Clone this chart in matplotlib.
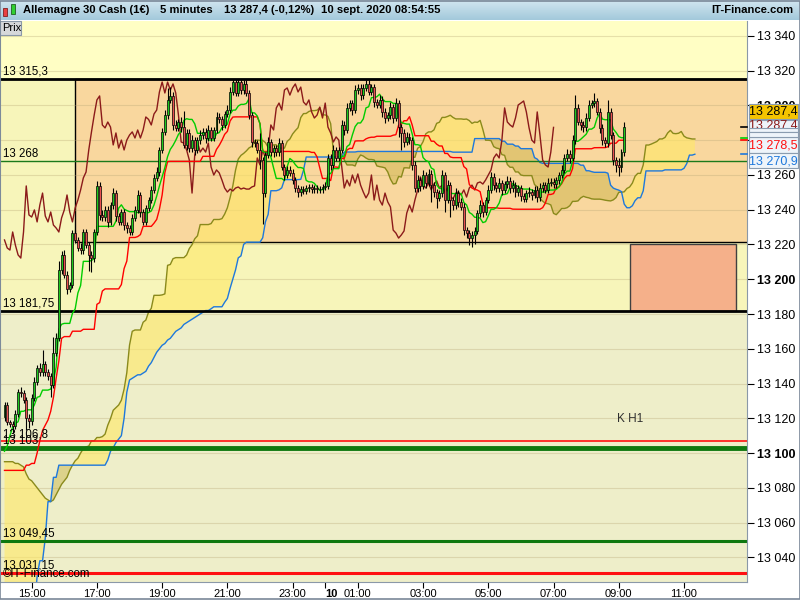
import numpy as np
import pandas as pd
import matplotlib
matplotlib.use("Agg")
import matplotlib.pyplot as plt
from matplotlib.patches import Rectangle
from matplotlib.transforms import blended_transform_factory

plt.rcParams['font.family'] = ['Liberation Sans', 'DejaVu Sans']

# ---- data (5 minute bars, DAX cash) ----
first_open = 13120.7
closes = [
    13127.6, 13117.9, 13116.7, 13115.6, 13122.5, 13135.1, 13134.5, 13130.5, 13120.2, 13118.4,
    13131.7, 13140.9, 13148.9, 13146.6, 13151.2, 13146.6, 13144.3, 13139.2, 13157.6, 13166.2,
    13205.3, 13214.0, 13202.5, 13194.4, 13196.7, 13226.6, 13222.6, 13218.0, 13216.8, 13227.2,
    13219.7, 13214.0, 13212.2, 13227.2, 13253.7, 13237.0, 13235.8, 13239.9, 13233.0, 13242.7,
    13249.6, 13236.4, 13233.0, 13238.7, 13231.2, 13229.5, 13227.2, 13235.3, 13239.9, 13248.5,
    13238.7, 13233.0, 13241.0, 13245.6, 13251.4, 13258.3, 13261.7, 13274.4, 13284.8, 13294.5,
    13303.2, 13305.5, 13288.8, 13287.1, 13290.5, 13287.6, 13277.3, 13284.2, 13275.5, 13280.1,
    13274.4, 13280.1, 13283.0, 13284.8, 13281.3, 13285.9, 13281.3, 13285.9, 13293.4, 13292.0,
    13288.8, 13295.1, 13297.4, 13307.8, 13313.5, 13307.2, 13313.5, 13308.9, 13312.4, 13307.2,
    13294.5, 13279.0, 13278.4, 13274.4, 13268.6, 13249.6, 13271.5, 13279.0, 13273.2, 13275.5,
    13273.2, 13278.4, 13264.6, 13260.0, 13262.9, 13261.2, 13257.1, 13252.5, 13250.2, 13251.9,
    13250.8, 13252.5, 13253.1, 13251.9, 13252.5, 13251.9, 13251.9, 13253.1, 13253.7, 13269.8,
    13265.8, 13274.4, 13269.8, 13274.4, 13288.8, 13285.9, 13298.6, 13301.4, 13297.4, 13308.9,
    13310.1, 13306.0, 13310.1, 13312.4, 13307.8, 13310.6, 13302.0, 13300.3, 13303.2, 13296.3,
    13292.8, 13294.5, 13299.1, 13292.8, 13301.4, 13287.6, 13284.2, 13279.0, 13281.9, 13280.1,
    13265.8, 13252.5, 13257.1, 13253.7, 13260.0, 13255.4, 13260.6, 13254.2, 13250.2, 13246.8,
    13249.6, 13260.0, 13245.6, 13254.2, 13245.6, 13242.7, 13249.6, 13244.5, 13241.6, 13228.3,
    13226.6, 13223.7, 13225.5, 13227.8, 13238.1, 13242.7, 13238.7, 13245.6, 13251.4, 13258.9,
    13254.2, 13252.5, 13255.4, 13251.4, 13254.8, 13256.6, 13252.5, 13254.2, 13250.2, 13252.5,
    13247.9, 13246.2, 13249.6, 13250.2, 13248.5, 13251.4, 13247.3, 13252.5, 13254.2, 13251.4,
    13255.4, 13256.0, 13254.8, 13257.1, 13260.0, 13262.9, 13269.8, 13272.1, 13269.8, 13280.1,
    13298.6, 13290.5, 13288.8, 13287.6, 13292.8, 13300.3, 13301.4, 13302.6, 13296.3, 13287.1,
    13280.1, 13278.4, 13296.3, 13283.0, 13268.6, 13265.8, 13264.6, 13273.2, 13287.4,
]
# wick sizes above / below the body, in points
wick_up = [
    2, 2, 1, 2, 2, 2, 3, 2, 2, 2,
    2, 3, 2, 3, 8, 2, 2, 2, 9, 3,
    5, 2, 3, 2, 2, 2, 2, 2, 3, 2,
    2, 2, 2, 2, 3, 2, 3, 2, 2, 2,
    3, 2, 2, 2, 2, 2, 2, 2, 2, 3,
    2, 2, 2, 2, 2, 2, 3, 2, 2, 3,
    7, 5, 2, 3, 2, 3, 9, 2, 2, 3,
    2, 2, 3, 2, 2, 3, 2, 2, 3, 2,
    2, 2, 3, 3, 1.8, 2, 1.5, 2, 2, 2,
    2, 2, 2, 2, 10, 2, 2, 3, 2, 2,
    2, 3, 2, 2, 2, 2, 2, 2, 2, 2,
    2, 2, 2, 2, 2, 2, 2, 2, 2, 2,
    2, 3, 2, 2, 3, 2, 3, 2, 2, 3,
    2, 2, 2, 2, 2.3, 2, 2, 2, 3, 2,
    2, 2, 3, 2, 3, 2, 2, 2, 3, 2,
    2, 2, 3, 2, 3, 2, 3, 2, 2, 2,
    2, 3, 2, 3, 2, 2, 3, 2, 2, 2,
    2, 2, 2, 2, 2, 3, 2, 2, 3, 3,
    2, 2, 3, 2, 2, 3, 2, 3, 2, 2,
    2, 2, 2, 3, 2, 2, 2, 3, 2, 2,
    3, 2, 2, 2, 2, 3, 2, 3, 2, 3,
    7.4, 2, 2, 2, 3, 3, 2, 4.6, 2, 2,
    2, 2, 7, 2, 2, 2, 4, 2, 3,
]
wick_lo = [
    2, 2, 2, 4, 2, 2, 2, 2, 7, 4,
    2, 2, 2, 2, 2, 2, 2, 7, 2, 2,
    2, 2, 2, 3, 2, 2, 2, 2, 2, 2,
    2, 9, 8, 2, 2, 3, 2, 2, 3, 2,
    2, 3, 2, 2, 3, 3, 2, 2, 2, 2,
    3, 2, 2, 2, 2, 2, 2, 2, 2, 2,
    2, 2, 3, 2, 2, 3, 2, 3, 2, 2,
    3, 2, 2, 2, 3, 2, 2, 2, 2, 2,
    3, 2, 2, 2, 2, 2, 2, 2, 2, 2,
    2, 3, 2, 2, 5, 18, 2, 2, 2, 3,
    2, 2, 2, 3, 2, 2, 2, 2, 3, 2,
    2, 2, 2, 2, 2, 2, 2, 2, 2, 2,
    3, 2, 2, 2, 2, 3, 2, 2, 3, 2,
    2, 3, 2, 2, 2, 2, 3, 2, 2, 3,
    3, 2, 2, 3, 2, 6, 10, 3, 2, 2,
    3, 2, 2, 3, 2, 3, 2, 10, 3, 6,
    2, 2, 7, 2, 10, 3, 2, 3, 2, 3,
    3, 4, 5, 5, 2, 2, 3, 2, 2, 2,
    3, 2, 2, 3, 2, 2, 3, 2, 3, 2,
    3, 2, 2, 2, 3, 2, 3, 2, 2, 2,
    2, 2, 2, 2, 2, 2, 2, 2, 3, 2,
    2, 2, 3, 3, 2, 2, 2, 2, 2, 3,
    3, 2, 2, 2, 3, 4, 5, 3, 2,
]

# ichimoku values at the left edge (their history is before the first bar)
tenkan_lead = [13101, 13104, 13110, 13115, 13117, 13118, 13124, 13124]
kijun_lead = [13090, 13090, 13090, 13090, 13090, 13090, 13090, 13090, 13093, 13093,
              13094, 13094, 13100, 13107, 13113, 13116, 13119, 13124, 13132, 13143,
              13153, 13166, 13167, 13167, 13167]
span_a_lead = [13095, 13095, 13095, 13095, 13094, 13094, 13093, 13092, 13088, 13085,
               13084, 13082, 13080, 13078, 13076, 13074, 13073, 13072, 13073, 13076,
               13079, 13082, 13084, 13086, 13090, 13093]
span_b_lead = ([13010] * 12
               + [13029, 13038, 13038, 13051, 13072, 13072, 13086, 13086]
               + [13093] * 18
               + [13096, 13101, 13103, 13106, 13108, 13110, 13120, 13135, 13142, 13143,
                  13144, 13145, 13145, 13146, 13147, 13150, 13152, 13155, 13158, 13160,
                  13162, 13163, 13165, 13166, 13168, 13170, 13171, 13172, 13174, 13175,
                  13176, 13177, 13178, 13179, 13180, 13181, 13182, 13182, 13183])

# horizontal levels drawn on the chart
levels = [13315.3, 13268, 13181.75, 13106.8, 13103, 13049.45, 13031.15]
level_labels = ["13 315,3", "13 268", "13 181,75", "13 106,8", "13 103", "13 049,45", "13 031,15"]
level_colors = ["black", "#1b7a1b", "black", "#ff1010", "#0e780e", "#0e780e", "#ff1010"]
level_widths = [2.0, 1.0, 2.0, 1.2, 3.5, 2.2, 2.2]

zone_top, zone_bottom, zone_start = 13315.3, 13221.5, 25.9
box_top, box_bottom, box_left, box_right = 13220.0, 13181.75, 230.1, 269.1

price_ticks = list(range(13040, 13341, 20))
hidden_ticks = [13280]   # covered by the price boxes on the scale
time_ticks = [10, 34, 58, 82, 106, 118, 130, 154, 178, 202, 226, 250]
time_labels = ["15:00", "17:00", "19:00", "21:00", "23:00", "10", "01:00",
               "03:00", "05:00", "07:00", "09:00", "11:00"]

box_values = [13287.4, 13287.4, 13278.5, 13270.9]

title_parts = ["Allemagne 30 Cash (1€)", "5 minutes", "13 287,4 (-0,12%)", "10 sept. 2020 08:54:55"]


def fr(v):
    s = f"{v:,.2f}".rstrip("0").rstrip(".")
    return s.replace(",", " ").replace(".", ",")


# ---- ichimoku from the candles ----
c = np.array(closes)
o = np.concatenate([[first_open], c[:-1]])
h = np.maximum(o, c) + np.array(wick_up)
l = np.minimum(o, c) - np.array(wick_lo)
n = len(c)
x = np.arange(n)
hs, ls = pd.Series(h), pd.Series(l)

tenkan = ((hs.rolling(9, min_periods=1).max() + ls.rolling(9, min_periods=1).min()) / 2).to_numpy()
tenkan[:len(tenkan_lead)] = tenkan_lead
kijun = ((hs.rolling(26, min_periods=1).max() + ls.rolling(26, min_periods=1).min()) / 2).to_numpy()
kijun[:len(kijun_lead)] = kijun_lead
mid52 = ((hs.rolling(52, min_periods=1).max() + ls.rolling(52, min_periods=1).min()) / 2).to_numpy()

span_a = np.concatenate([span_a_lead, (tenkan + kijun) / 2])
span_b = np.concatenate([span_b_lead, mid52[len(span_b_lead) - 26:]])
xc = np.arange(len(span_a))

# ---- figure ----
fig = plt.figure(figsize=(8, 6), dpi=100)
fig.patch.set_facecolor("white")


def fx(px):
    return px / 800


def fy(py):
    return 1 - py / 600


ax = fig.add_axes([0, fy(582), fx(747), (582 - 21) / 600])
ax.set_xlim(-1.656, 273.18)
ax.set_ylim(13025.76, 13348.63)

# background bands
ax.axhspan(13315.3, 13400, color="#fffec4", zorder=0)
ax.axhspan(13181.75, 13315.3, color="#f7f5ba", zorder=0)
ax.axhspan(13000, 13181.75, color="#eeeec9", zorder=0)
ax.add_patch(Rectangle((zone_start, zone_bottom), 400, zone_top - zone_bottom,
                       facecolor="#f9d79e", edgecolor="black", lw=1, zorder=0.5))
for p in price_ticks:
    ax.axhline(p, color="#b8a878", alpha=0.35, lw=0.8, zorder=0.6)

# cloud
ax.fill_between(xc, span_a, span_b, where=span_a >= span_b, interpolate=True,
                color="#ffe866", alpha=0.6, lw=0, zorder=1)
ax.fill_between(xc, span_a, span_b, where=span_a < span_b, interpolate=True,
                color="#c8b040", alpha=0.45, lw=0, zorder=1)
ax.plot(xc, span_a, color="#8a8a1c", lw=1, zorder=2)
ax.plot(xc, span_b, color="#1e78dc", lw=1, zorder=2)

ax.add_patch(Rectangle((box_left, box_bottom), box_right - box_left, box_top - box_bottom,
                       facecolor="#f5b08a", edgecolor="#404040", lw=1, zorder=2))

for lv, col, lw in zip(levels, level_colors, level_widths):
    ax.axhline(lv, color=col, lw=lw, zorder=2.5)

tr_left = blended_transform_factory(ax.transAxes, ax.transData)
for lv, lab in zip(levels, level_labels):
    ax.text(3 / 747, lv + 0.6, lab, transform=tr_left, fontsize=8.3,
            va="bottom", ha="left", zorder=6)

# chikou, kijun, tenkan
ax.plot(x[:n - 26], c[26:], color="#8b1a1a", lw=1, zorder=3)
ax.plot(x, kijun, color="#ff0000", lw=1, zorder=3.2)
ax.plot(x, tenkan, color="#00cc00", lw=1, zorder=3.4)

# candles
up = c >= o
ax.vlines(x, l, h, color="black", lw=0.8, zorder=4)
ax.bar(x, np.maximum(np.abs(c - o), 0.3), bottom=np.minimum(o, c), width=0.72,
       color=np.where(up, "#1ec81e", "#e85050"), edgecolor="black", lw=0.5, zorder=5)

ax.text(225.3, 13119.6, "K H1", fontsize=8.5, color="#303030", va="center", zorder=6)
ax.text(3 / 747, 8 / 561, "©IT-Finance.com", transform=ax.transAxes, fontsize=8.3,
        va="center", ha="left", zorder=6)

# axes
ax.spines["top"].set_visible(False)
for side in ["left", "right", "bottom"]:
    ax.spines[side].set_color("#8a98a8")
ax.yaxis.tick_right()
ax.set_yticks(price_ticks)
ax.set_yticklabels(["" if p in hidden_ticks else fr(p) for p in price_ticks])
for t, p in zip(ax.get_yticklabels(), price_ticks):
    if p % 100 == 0:
        t.set_fontweight("bold")
ax.tick_params(axis="y", direction="out", length=5, width=0.8, pad=2,
               labelsize=9, colors="black")
ax.set_xticks(time_ticks)
ax.set_xticklabels(time_labels)
for t, lab in zip(ax.get_xticklabels(), time_labels):
    if lab == "10":
        t.set_fontweight("bold")
        t.set_fontsize(9)
        t.set_horizontalalignment("left")
ax.tick_params(axis="x", direction="out", length=4, width=0.8, pad=1, labelsize=8)

# small marks at the right edge
for v, col in zip([c[-1], tenkan[-1], kijun[-1], span_b[-1]],
                  ["black", "#00cc00", "#ff0000", "#1e78dc"]):
    ax.plot([271.0, 273.18], [v, v], color=col, lw=1.2, clip_on=False, zorder=7)

# title bar
tax = fig.add_axes([0, fy(20), 1, 20 / 600])
grad = np.linspace(0, 1, 20)[:, None, None]
top_col = np.array([0.82, 0.90, 0.94])
bot_col = np.array([0.64, 0.79, 0.86])
tax.imshow(top_col + (bot_col - top_col) * grad, aspect="auto", extent=[0, 1, 0, 1])
tax.set_axis_off()
for px, part in zip([23, 160, 224, 321], title_parts):
    fig.text(fx(px), fy(10), part, fontsize=8.1, fontweight="bold", va="center", ha="left")
fig.text(fx(793), fy(10), "IT-Finance.com", fontsize=8.1, fontweight="bold", va="center", ha="right")
fig.add_artist(Rectangle((fx(3), fy(16)), fx(4), 8 / 600, facecolor="#e84040", edgecolor="#802020", lw=0.6))
fig.add_artist(Rectangle((fx(11), fy(14)), fx(4), 10 / 600, facecolor="#30d030", edgecolor="#206020", lw=0.6))

# "Prix" tab
fig.add_artist(Rectangle((0, fy(35)), fx(21), 14 / 600, facecolor="#d6d8da", edgecolor="#8a98a8", lw=0.8))
fig.text(fx(2), fy(28), "Prix", fontsize=8, va="center", ha="left")

# price boxes on the right scale
box_rows = [(104, 119, "#f5c400", "black"), (120, 130, "#eef4fa", "#8b1a1a"),
            (137, 153, "#eef4fa", "#ff1010"), (153, 168, "#eef4fa", "#1e78dc")]
for (y0, y1, fc, tc), val in zip(box_rows, box_values):
    fig.add_artist(Rectangle((fx(749), fy(y1)), fx(49), (y1 - y0) / 600,
                             facecolor=fc, edgecolor="#8a9cb0", lw=0.8, zorder=10))
    fig.text(fx(773.5), fy((y0 + y1) / 2 + 0.5), fr(val), fontsize=9, color=tc,
             va="center", ha="center", zorder=11)
for y0, y1 in [(128, 132), (132, 137)]:
    fig.add_artist(Rectangle((fx(749), fy(y1)), fx(49), (y1 - y0) / 600,
                             facecolor="#eef4fa", edgecolor="#8a9cb0", lw=0.8, zorder=12))

# outer frame
fig.add_artist(Rectangle((0.0005, 0.001), 0.999, 0.998, fill=False, edgecolor="#7a8898", lw=1.2))

fig.savefig("out.png", dpi=100)
